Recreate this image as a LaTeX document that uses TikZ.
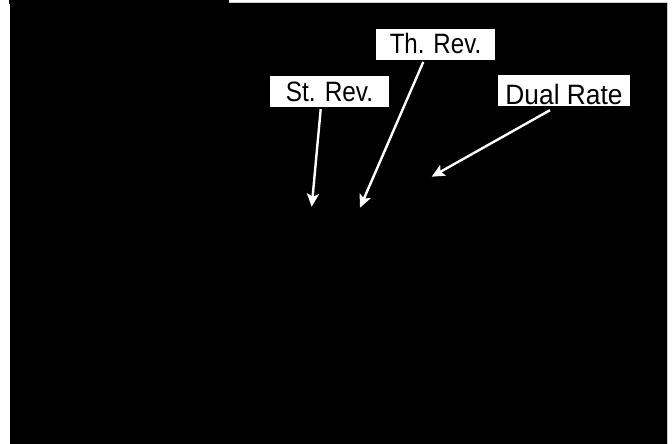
\documentclass[tikz,border=0pt]{standalone}
\usepackage{graphicx}
\usepackage{fontspec}
\setmainfont{Liberation Sans}
\usetikzlibrary{arrows.meta}

\newcommand{\narrow}[2]{\scalebox{#1}[1]{#2}}

\tikzset{
  tag/.style={fill=white, text=black, inner sep=0pt,
    font=\fontsize{28}{30}\selectfont},
  pointer/.style={draw=white, line width=2.4pt,
    -{Stealth[length=13pt, width=12pt, inset=3pt]}}
}

\begin{document}
\begin{tikzpicture}[x=1pt, y=-1pt]
            \useasboundingbox (0, 0) rectangle (672, 444);
            % dark panel
            \fill[black]       (9, 0) rectangle (229, 4);
            \draw[gray!40, line width=1pt] (229, 2.5) -- (667.5, 2.5) -- (667.5, 444);
            \fill[black]       (10, 3) rectangle (667, 444);
            % labels
            \node[tag, minimum width=119pt, text height=24.7pt, text depth=6.3pt] (th)   at (435.5, 44.5) {\narrow{0.86}{Th. Rev.}};
            \node[tag, minimum width=119pt, text height=25.7pt, text depth=5.6pt] (st)   at (329.5, 91.65) {\narrow{0.87}{St. Rev.}};
            \node[tag, minimum width=132pt, text height=29pt, text depth=2.3pt] (dual) at (564, 90.65) {\narrow{0.94}{Dual Rate}};
            % arrow ends
            \coordinate (stEnd)   at (311.7, 206.7);
            \coordinate (thEnd)   at (360, 207.7);
            \coordinate (dualEnd) at (431.7, 176.7);
            \draw[pointer] ([xshift=-8.8pt, yshift=-1.7pt]st.south)   -- (stEnd);
            \draw[pointer] ([xshift=-12.2pt, yshift=-1.7pt]th.south)  -- (thEnd);
            \draw[pointer] ([xshift=-14pt, yshift=-3.7pt]dual.south)  -- (dualEnd);
            \end{tikzpicture}
\end{document}
